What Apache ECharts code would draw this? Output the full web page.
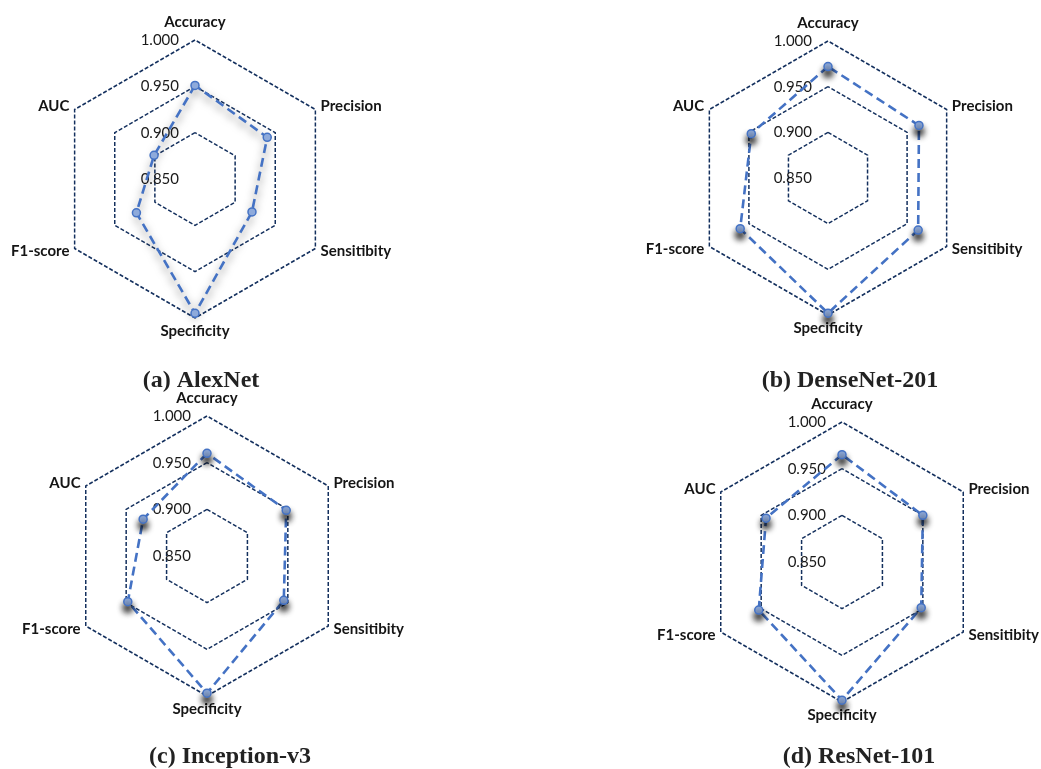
<!DOCTYPE html>
<html>
<head>
<meta charset="utf-8">
<script src="https://cdn.jsdelivr.net/npm/echarts@6/dist/echarts.min.js"></script>
<style>
  html, body { margin: 0; padding: 0; background: #ffffff; }
  #chart { width: 1041px; height: 769px; }
</style>
</head>
<body>
<div id="chart"></div>
<script>
// Metric names, listed clockwise from the top
const metrics = ['Accuracy', 'Precision', 'Sensitibity', 'Specificity', 'F1-score', 'AUC'];

// Model names with panel letters
const panelTitles = ['(a) AlexNet', '(b) DenseNet-201', '(c) Inception-v3', '(d) ResNet-101'];

// Scores per model, in the order of `metrics`
const alexNet     = [0.951, 0.940, 0.921, 0.995, 0.923, 0.901];
const denseNet201 = [0.972, 0.965, 0.964, 0.998, 0.961, 0.947];
const inceptionV3 = [0.960, 0.948, 0.945, 0.997, 0.948, 0.929];
const resNet101   = [0.965, 0.950, 0.948, 0.998, 0.953, 0.944];

// Radial scale
const scaleMin = 0.85;
const scaleMax = 1.0;
const scaleSplits = 3;

const modelScores = [alexNet, denseNet201, inceptionV3, resNet101];

// ECharts radar runs counter-clockwise; reorder so metrics read clockwise
const ccwOrder = [0, 5, 4, 3, 2, 1];

const panels = [
  { center: [195, 179], radius: 139, title: [196, 364] },
  { center: [828, 178], radius: 137, title: [845, 364] },
  { center: [207, 556], radius: 140, title: [225, 740] },
  { center: [842, 562], radius: 140, title: [854, 740] }
];

const blue = '#4472c4';
const gridColor = '#14305e';

const radars = panels.map(function (p) {
  return {
    center: p.center,
    radius: p.radius,
    startAngle: 90,
    splitNumber: scaleSplits,
    shape: 'polygon',
    nameGap: 6,
    axisName: {
      color: '#151515',
      fontFamily: 'Lato',
      fontWeight: 'bold',
      fontSize: 15
    },
    indicator: ccwOrder.map(function (i, k) {
      const ind = { name: metrics[i], min: scaleMin, max: scaleMax };
      if (k === 0) {
        ind.nameGap = 10;
        ind.axisLabel = {
          show: true,
          color: '#1a1a1a',
          fontFamily: 'Lato',
          fontSize: 15,
          margin: 16,
          showMinLabel: true,
          showMaxLabel: true,
          formatter: function (v) { return Number(v).toFixed(3); }
        };
      }
      return ind;
    }),
    axisLine: { show: false },
    axisTick: { show: false },
    axisLabel: { show: false },
    splitArea: { show: false },
    splitLine: {
      lineStyle: { color: gridColor, width: 1.5, type: [4, 2] }
    }
  };
});

const series = modelScores.map(function (vals, idx) {
  const soft = idx === 0;
  return {
    type: 'radar',
    radarIndex: idx,
    symbol: 'circle',
    symbolSize: 8,
    lineStyle: soft
      ? { color: blue, width: 2.6, type: [9, 5], shadowColor: 'rgba(0,0,0,0.6)', shadowBlur: 9, shadowOffsetY: 4 }
      : { color: blue, width: 2.6, type: [9, 5] },
    itemStyle: soft
      ? { color: '#8eaadb', borderColor: blue, borderWidth: 1.5 }
      : { color: '#8eaadb', borderColor: blue, borderWidth: 1.5,
          shadowColor: 'rgba(0,0,0,0.95)', shadowBlur: 6, shadowOffsetY: 6 },
    data: [{ value: ccwOrder.map(function (i) { return vals[i]; }), name: panelTitles[idx] }]
  };
});

const titles = panels.map(function (p, idx) {
  return {
    text: panelTitles[idx],
    left: p.title[0],
    top: p.title[1],
    textAlign: 'center',
    textStyle: {
      fontFamily: 'Liberation Serif',
      fontWeight: 'bold',
      fontSize: 24,
      color: '#222'
    }
  };
});

const chart = echarts.init(document.getElementById('chart'), null, { renderer: 'canvas' });
chart.setOption({
  backgroundColor: '#ffffff',
  animation: false,
  title: titles,
  radar: radars,
  series: series
});
</script>
</body>
</html>
